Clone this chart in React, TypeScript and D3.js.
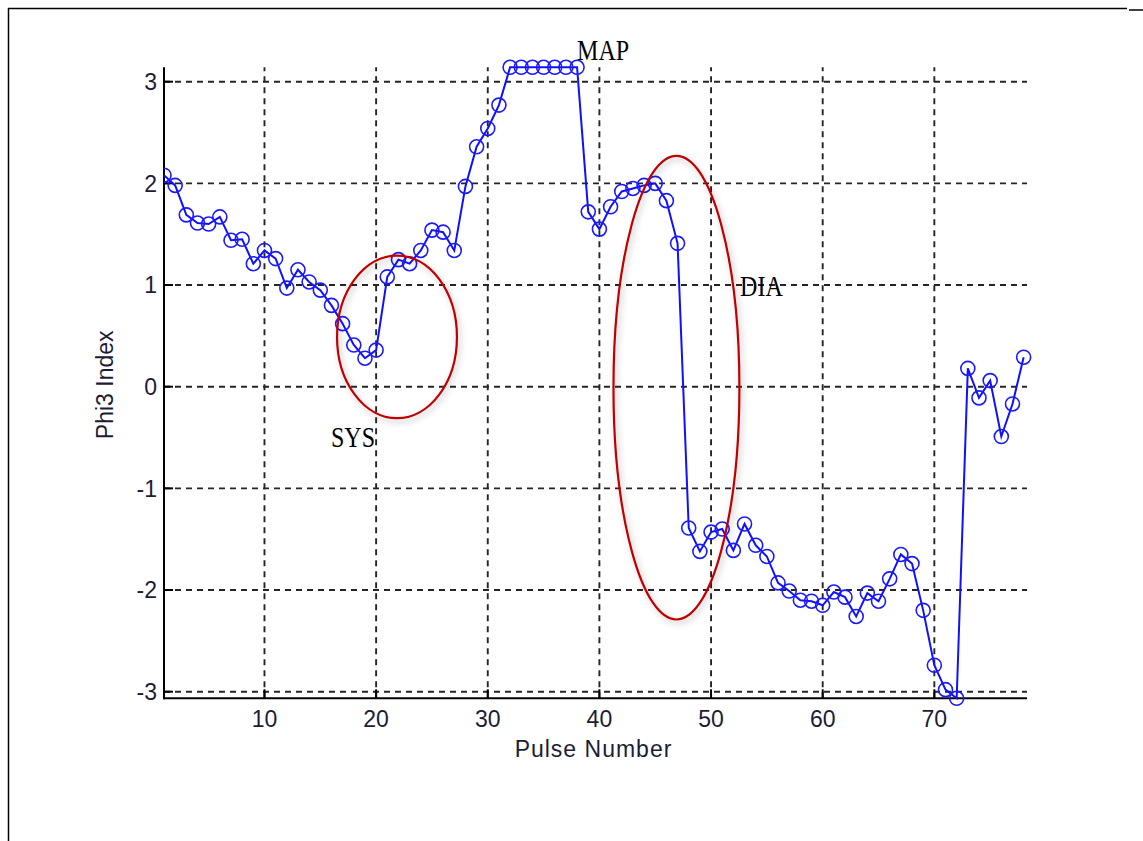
import React from 'react';
import * as d3 from 'd3';

// Phi3 index per pulse (pulse numbers start at 1)
const PHI3_INDEX = [
  2.08, 1.98, 1.69, 1.61, 1.6, 1.67, 1.44, 1.45, 1.21, 1.34,
  1.26, 0.97, 1.15, 1.03, 0.95, 0.8, 0.62, 0.41, 0.28, 0.36,
  1.08, 1.25, 1.21, 1.34, 1.54, 1.52, 1.34, 1.97, 2.36, 2.54,
  2.77, 3.1416, 3.1416, 3.1416, 3.1416, 3.1416, 3.1416, 3.1416, 1.72, 1.55,
  1.77, 1.92, 1.95, 1.98, 2.0, 1.83, 1.41, -1.39, -1.62, -1.43,
  -1.4, -1.61, -1.35, -1.56, -1.67, -1.93, -2.01, -2.1, -2.11, -2.15,
  -2.02, -2.07, -2.26, -2.03, -2.11, -1.89, -1.65, -1.74, -2.2, -2.74,
  -2.98, -3.065, 0.18, -0.11, 0.06, -0.49, -0.17, 0.29,
];
const PULSE_NUMBERS = PHI3_INDEX.map((_, i) => i + 1);

const X_TICKS = [10, 20, 30, 40, 50, 60, 70];
const Y_TICKS = [-3, -2, -1, 0, 1, 2, 3];

// Phase labels in data coordinates
const LABEL_TEXT = ['MAP', 'SYS', 'DIA'];
const LABEL_PULSE = [38.0, 15.96, 52.6];
const LABEL_VALUE = [3.21, -0.59, 0.89];

// Highlight ellipses: centre and radii in data units
const RING_PULSE = [21.87, 46.9];
const RING_VALUE = [0.49, -0.01];
const RING_RX = [5.37, 5.64];
const RING_RY = [0.8, 2.28];

const W = 1143;
const H = 841;
const PLOT = { left: 164, right: 1027, top: 67.3, bottom: 698.3 };
const SANS = '"Liberation Sans", Arial, Helvetica, sans-serif';
const SERIF = '"Liberation Serif", "Times New Roman", serif';
const TEXT_COLOR = '#1c1c36';

export default function App() {
  const x = d3.scaleLinear().domain([1, 78.3]).range([PLOT.left, PLOT.right]);
  const yExtent = d3.extent(PHI3_INDEX) as [number, number];
  const y = d3.scaleLinear().domain(yExtent).range([PLOT.bottom, PLOT.top]);

  const points = PULSE_NUMBERS.map((p, i) => [p, PHI3_INDEX[i]] as [number, number]);
  const line = d3
    .line<[number, number]>()
    .x((d) => x(d[0]))
    .y((d) => y(d[1]));

  const tickLen = 9;

  return (
    <svg
      width={W}
      height={H}
      viewBox={`0 0 ${W} ${H}`}
      style={{ position: 'absolute', left: 0, top: 0, background: '#fff' }}
    >
      <defs>
        <clipPath id="plot-area">
          <rect
            x={PLOT.left}
            y={PLOT.top - 10}
            width={PLOT.right - PLOT.left + 10}
            height={PLOT.bottom - PLOT.top + 20}
          />
        </clipPath>
        <filter id="ring-shadow" x="-20%" y="-20%" width="140%" height="140%">
          <feDropShadow dx="2" dy="3" stdDeviation="3" floodColor="#000" floodOpacity="0.28" />
        </filter>
      </defs>

      {/* page frame */}
      <line x1={8} y1={8.5} x2={1127} y2={8.5} stroke="#000" strokeWidth={1.5} />
      <line x1={1129} y1={10} x2={1143} y2={10} stroke="#000" strokeWidth={1.5} />
      <line x1={8.5} y1={8} x2={8.5} y2={H} stroke="#000" strokeWidth={1.5} />

      {/* grid */}
      <g stroke="#000" strokeWidth={1.9} strokeDasharray="6,5" fill="none" opacity={0.85}>
        {X_TICKS.map((t) => (
          <line key={`gx${t}`} x1={x(t)} x2={x(t)} y1={PLOT.bottom} y2={PLOT.top} />
        ))}
        {Y_TICKS.map((t) => (
          <line key={`gy${t}`} x1={PLOT.left} x2={PLOT.right} y1={y(t)} y2={y(t)} />
        ))}
      </g>

      {/* axes */}
      <g stroke="#000" strokeWidth={2} fill="none">
        <line x1={PLOT.left} x2={PLOT.left} y1={PLOT.top} y2={PLOT.bottom + 1} />
        <line x1={PLOT.left - 1} x2={PLOT.right} y1={PLOT.bottom} y2={PLOT.bottom} />
        {X_TICKS.map((t) => (
          <line key={`tx${t}`} x1={x(t)} x2={x(t)} y1={PLOT.bottom} y2={PLOT.bottom - tickLen} />
        ))}
        {Y_TICKS.map((t) => (
          <line key={`ty${t}`} x1={PLOT.left} x2={PLOT.left + tickLen} y1={y(t)} y2={y(t)} />
        ))}
      </g>

      {/* tick labels */}
      <g fontFamily={SANS} fontSize={23} fill={TEXT_COLOR}>
        {X_TICKS.map((t) => (
          <text key={`lx${t}`} x={x(t)} y={727} textAnchor="middle">
            {t}
          </text>
        ))}
        {Y_TICKS.map((t) => (
          <text key={`ly${t}`} x={157} y={y(t)} dy="0.36em" textAnchor="end">
            {t}
          </text>
        ))}
      </g>

      {/* axis titles */}
      <text
        x={(PLOT.left + PLOT.right) / 2 - 2}
        y={757}
        textAnchor="middle"
        fontFamily={SANS}
        fontSize={23}
        letterSpacing={1}
        fill={TEXT_COLOR}
      >
        Pulse Number
      </text>
      <text
        transform={`translate(113, ${(PLOT.top + PLOT.bottom) / 2 + 2}) rotate(-90)`}
        textAnchor="middle"
        fontFamily={SANS}
        fontSize={23}
        fill={TEXT_COLOR}
      >
        Phi3 Index
      </text>

      {/* series */}
      <g clipPath="url(#plot-area)">
        <path d={line(points) || ''} fill="none" stroke="#1010ff" strokeWidth={2} />
        {points.map((d, i) => (
          <circle
            key={`pt${i}`}
            cx={x(d[0])}
            cy={y(d[1])}
            r={7}
            fill="none"
            stroke="#1a1aff"
            strokeWidth={1.6}
          />
        ))}
      </g>

      {/* highlight rings */}
      <g fill="none" stroke="#c00000" strokeWidth={2.2} filter="url(#ring-shadow)">
        {RING_PULSE.map((p, i) => (
          <ellipse
            key={`ring${i}`}
            cx={x(p)}
            cy={y(RING_VALUE[i])}
            rx={x(p + RING_RX[i]) - x(p)}
            ry={y(RING_VALUE[i] - RING_RY[i]) - y(RING_VALUE[i])}
          />
        ))}
      </g>

      {/* phase labels */}
      <g fontFamily={SERIF} fontSize={24} fill="#000">
        {LABEL_TEXT.map((t, i) => (
          <text
            key={t}
            transform={`translate(${x(LABEL_PULSE[i])}, ${y(LABEL_VALUE[i])}) scale(1, 1.22)`}
          >
            {t}
          </text>
        ))}
      </g>
    </svg>
  );
}
